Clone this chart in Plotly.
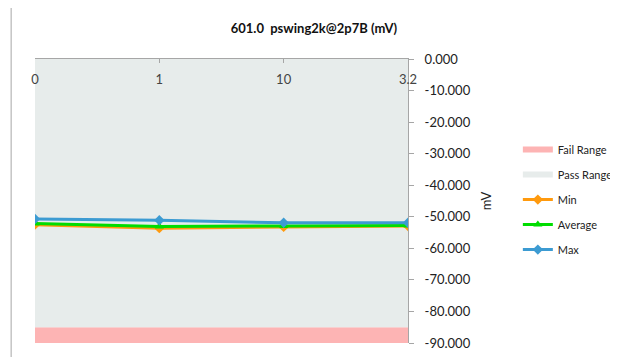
import plotly.graph_objects as go

categories = ['0', '1', '10', '3.2']
min_vals = [-52.5, -53.6, -53.2, -52.9]
avg_vals = [-52.1, -53.1, -52.9, -52.8]
max_vals = [-50.7, -51.1, -51.9, -51.9]
fail_low, fail_high = -90, -85
pass_low, pass_high = -85, 0
y_ticks = [0, -10, -20, -30, -40, -50, -60, -70, -80, -90]
y_ticktext = ['0.000', '-10.000', '-20.000', '-30.000', '-40.000',
              '-50.000', '-60.000', '-70.000', '-80.000', '-90.000']

FONT = 'Lato'
xs = list(range(len(categories)))
x0, x1 = xs[0], xs[-1]

fig = go.Figure()

# bands
fig.add_trace(go.Scatter(x=[x0, x1, x1, x0], y=[fail_low, fail_low, fail_high, fail_high],
                         fill='toself', mode='none', fillcolor='#FDB4B4',
                         name='Fail Range', legendgroup='a', hoverinfo='skip'))
fig.add_trace(go.Scatter(x=[x0, x1, x1, x0], y=[pass_low, pass_low, pass_high, pass_high],
                         fill='toself', mode='none', fillcolor='#E7ECEB',
                         name='Pass Range', legendgroup='b', hoverinfo='skip'))

fig.add_trace(go.Scatter(x=xs, y=min_vals, name='Min', legendgroup='c', mode='lines+markers',
                         line=dict(color='#FF9A0E', width=3),
                         marker=dict(symbol='diamond', size=8, color='#FF9A0E')))
fig.add_trace(go.Scatter(x=xs, y=avg_vals, name='Average', legendgroup='d', mode='lines+markers',
                         line=dict(color='#00DD00', width=3),
                         marker=dict(symbol='triangle-up', size=8, color='#00DD00')))
fig.add_trace(go.Scatter(x=xs, y=max_vals, name='Max', legendgroup='e', mode='lines+markers',
                         line=dict(color='#3C9BD2', width=3),
                         marker=dict(symbol='diamond', size=8, color='#3C9BD2')))

# the page puts the plot 8px in from the window's top-left corner, margins allow for it
fig.update_layout(
    width=618, height=357,
    margin=dict(l=27, r=218, t=51, b=22),
    paper_bgcolor='white', plot_bgcolor='white',
    font=dict(family=FONT, size=13, color='#222'),
    title=dict(text='<b>601.0  pswing2k@2p7B (mV)</b>', x=0.495, xanchor='center',
               y=0.944, yanchor='middle', font=dict(size=13, color='#111')),
    showlegend=True,
    legend=dict(xref='container', yref='container', x=0.825, y=0.644,
                xanchor='left', yanchor='top',
                font=dict(size=11, color='#222'), tracegroupgap=6,
                bgcolor='rgba(0,0,0,0)'),
    xaxis=dict(range=[x0, x1], tickvals=xs, ticktext=categories, side='top',
               ticklabelposition='inside', ticklabeloverflow='allow', automargin=False,
               ticklabelstandoff=12,
               showgrid=False, zeroline=False,
               showline=True, linecolor='#A6A6A6', linewidth=1,
               ticks='inside', ticklen=4, tickcolor='#A6A6A6'),
    yaxis=dict(range=[-90, 0], side='right', tickvals=y_ticks, ticktext=y_ticktext,
               automargin=False, ticklabeloverflow='allow', ticklabelstandoff=8,
               showgrid=False, zeroline=False, showline=True, linecolor='#A6A6A6',
               ticks='outside', ticklen=5, tickcolor='#A6A6A6',
               title=dict(text='mV', font=dict(size=13), standoff=12)),
    shapes=[dict(type='rect', xref='paper', yref='paper', x0=-0.064, x1=1.56,
                 y0=-0.1, y1=1.19, line=dict(color='#A6A6A6', width=1))],
)

fig.write_html("out.html")
